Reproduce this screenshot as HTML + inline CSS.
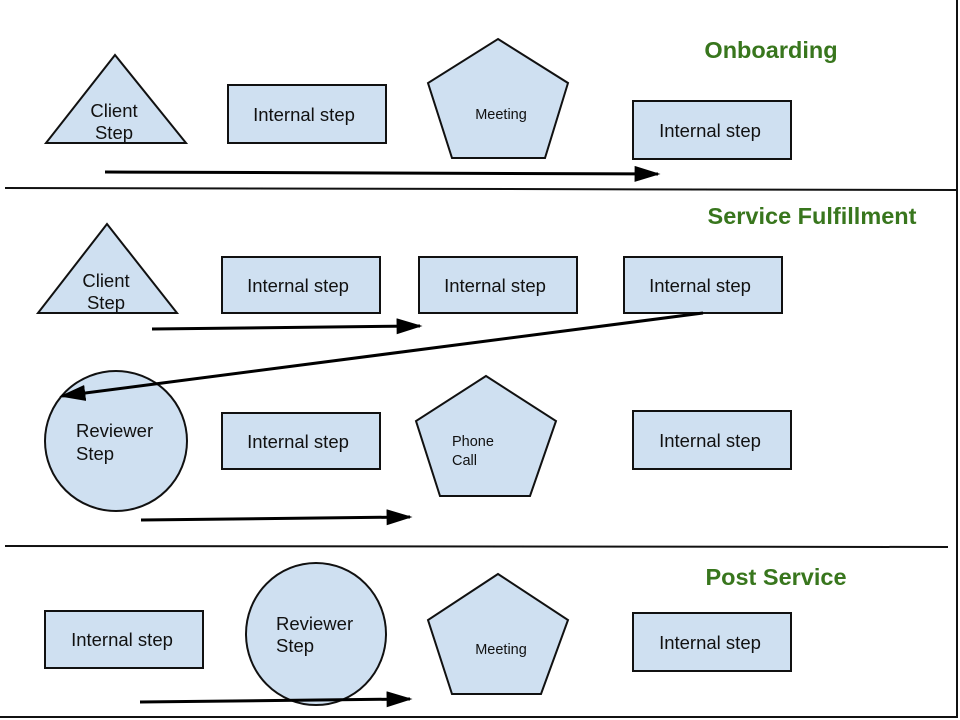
<!DOCTYPE html>
<html><head><style>
html,body{margin:0;padding:0;background:#fff;}
svg{display:block;}
text{font-family:"Liberation Sans",Arial,sans-serif;}
</style></head><body>
<svg width="960" height="720" viewBox="0 0 960 720" xmlns="http://www.w3.org/2000/svg">
<defs>
<marker id="a2" viewBox="0 0 10 10" refX="9" refY="5" markerWidth="26" markerHeight="16" orient="auto" markerUnits="userSpaceOnUse" preserveAspectRatio="none">
<path d="M0,0 L10,5 L0,10 z" fill="#000"/>
</marker>
</defs>
<g stroke="#111" stroke-width="2" fill="none">
<line x1="957" y1="0" x2="957" y2="717"/>
<line x1="0" y1="717" x2="958" y2="717"/>
<line x1="5" y1="188" x2="957" y2="190"/>
<line x1="5" y1="546" x2="948" y2="547"/>
</g>
<g fill="#cfe0f1" stroke="#111" stroke-width="2">
<polygon points="46,143 115,55 186,143"/>
<rect x="228" y="85" width="158" height="58"/>
<polygon points="498,39 568,83 545,158 452,158 428,83"/>
<rect x="633" y="101" width="158" height="58"/>
<polygon points="38,313 107,224 177,313"/>
<rect x="222" y="257" width="158" height="56"/>
<rect x="419" y="257" width="158" height="56"/>
<rect x="624" y="257" width="158" height="56"/>
<ellipse cx="116" cy="441" rx="71" ry="70"/>
<rect x="222" y="413" width="158" height="56"/>
<polygon points="486,376 556,421 530,496 440,496 416,421"/>
<rect x="633" y="411" width="158" height="58"/>
<rect x="45" y="611" width="158" height="57"/>
<ellipse cx="316" cy="634" rx="70" ry="71"/>
<polygon points="498,574 568,620 541,694 452,694 428,620"/>
<rect x="633" y="613" width="158" height="58"/>
</g>
<g stroke="#000" stroke-width="3" fill="none">
<line x1="105" y1="172" x2="658" y2="174" marker-end="url(#a2)"/>
<line x1="152" y1="329" x2="420" y2="326" marker-end="url(#a2)"/>
<line x1="703" y1="313" x2="62" y2="396" marker-end="url(#a2)"/>
<line x1="141" y1="520" x2="410" y2="517" marker-end="url(#a2)"/>
<line x1="140" y1="702" x2="410" y2="699" marker-end="url(#a2)"/>
</g>
<g font-size="18.5" fill="#111" text-anchor="middle">
<text x="114" y="117">Client</text><text x="114" y="139">Step</text>
<text x="304" y="121">Internal step</text>
<text x="501" y="119" font-size="14.5">Meeting</text>
<text x="710" y="137">Internal step</text>
<text x="106" y="287">Client</text><text x="106" y="309">Step</text>
<text x="298" y="292">Internal step</text>
<text x="495" y="292">Internal step</text>
<text x="700" y="292">Internal step</text>
<text x="298" y="448">Internal step</text>
<text x="710" y="447">Internal step</text>
<text x="122" y="646">Internal step</text>
<text x="501" y="654" font-size="14.5">Meeting</text>
<text x="710" y="649">Internal step</text>
</g>
<g font-size="18.5" fill="#111">
<text x="76" y="437">Reviewer</text><text x="76" y="460">Step</text>
<text x="276" y="630">Reviewer</text><text x="276" y="652">Step</text>
<text x="452" y="446" font-size="14.5">Phone</text><text x="452" y="465" font-size="14.5">Call</text>
</g>
<g font-size="23.5" font-weight="bold" fill="#38761d" text-anchor="middle">
<text x="771" y="58">Onboarding</text>
<text x="812" y="224">Service Fulfillment</text>
<text x="776" y="585">Post Service</text>
</g>
</svg>
</body></html>
